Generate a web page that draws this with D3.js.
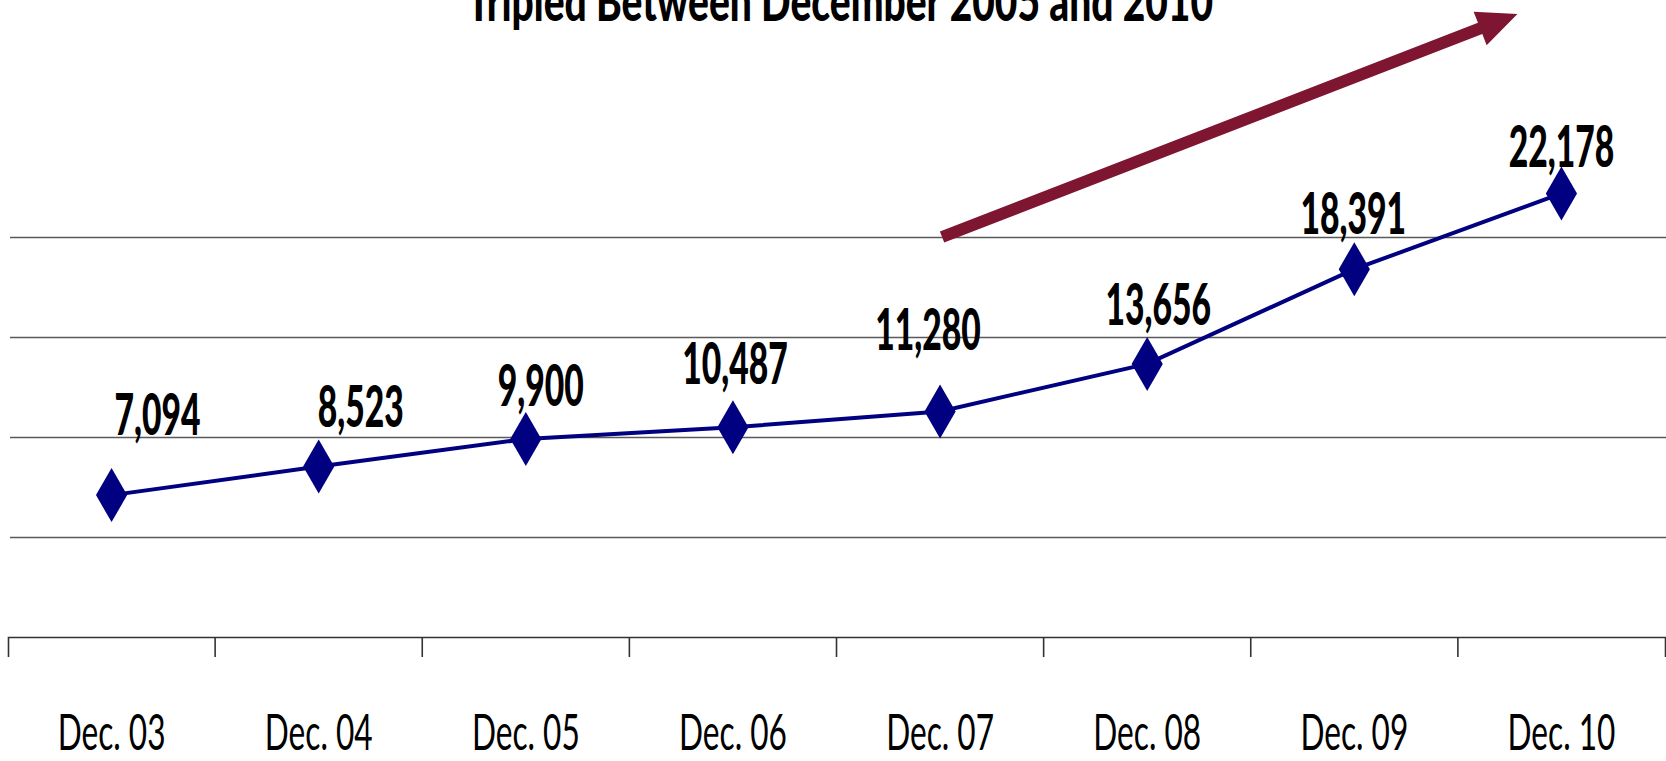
<!DOCTYPE html>
<html>
<head>
<meta charset="utf-8">
<script src="https://cdn.jsdelivr.net/npm/d3@7"></script>
<style>
  body { margin: 0; background: #fff; }
  svg { display: block; font-family: Lato, "Open Sans", sans-serif; }
</style>
</head>
<body>
<svg id="drawing_region"></svg>
<script>
// chart data
const categories = ['Dec. 03', 'Dec. 04', 'Dec. 05', 'Dec. 06', 'Dec. 07', 'Dec. 08', 'Dec. 09', 'Dec. 10'];
const values = [7094, 8523, 9900, 10487, 11280, 13656, 18391, 22178];
const gridValues = [5000, 10000, 15000, 20000];
const titleText = 'Tripled Between December 2005 and 2010';

var width = 1666;
var height = 761;
var margin = {top: 137, right: 1, bottom: 124, left: 8};

// label nudges (px) so labels sit like in the slide
const labelDx = [46, 42, 15, 2, -12, 11, -1, 0];
const labelDy = [-60, -40, -33, -43, -61, -39, -35, -26];

var svg = d3.select('#drawing_region')
    .attr('width', width)
    .attr('height', height);

const inner_width = width - margin.left - margin.right;
const inner_height = height - margin.top - margin.bottom;

const chart = svg.append('g')
    .attr('transform', `translate(${margin.left}, ${margin.top})`);

const xscale = d3.scaleBand()
    .domain(categories)
    .range([0, inner_width])
    .padding(0);

const yscale = d3.scaleLinear()
    .domain([0, 25000])
    .range([inner_height, 0]);

// gridlines
const ygrid = d3.axisLeft(yscale)
    .tickValues(gridValues)
    .tickSize(-inner_width)
    .tickFormat('');
chart.append('g')
    .attr('transform', 'translate(2, 0)')
    .call(ygrid)
    .call(g => g.select('.domain').remove())
    .call(g => g.selectAll('line').attr('stroke', '#5a5a5a').attr('stroke-width', 1.3));

// x axis
const xaxis = d3.axisBottom(xscale)
    .tickSizeInner(0)
    .tickSizeOuter(20);
const xaxis_group = chart.append('g')
    .attr('transform', `translate(0, ${inner_height})`)
    .call(xaxis);
xaxis_group.select('.domain').attr('stroke', '#333').attr('stroke-width', 1.6);
// condensed labels: squeeze horizontally
xaxis_group.selectAll('text')
    .attr('y', 0)
    .attr('dy', 0)
    .attr('transform', 'translate(0, 113) scale(0.62, 1)')
    .attr('font-size', 51)
    .attr('font-family', 'Lato, sans-serif')
    .attr('fill', '#000');
// tick marks between categories
xaxis_group.selectAll('.sep')
    .data(categories.slice(1))
    .enter().append('line')
    .attr('class', 'sep')
    .attr('x1', d => xscale(d))
    .attr('x2', d => xscale(d))
    .attr('y1', 0)
    .attr('y2', 20)
    .attr('stroke', '#333')
    .attr('stroke-width', 1.6);

const cx = (d, i) => xscale(categories[i]) + xscale.bandwidth() / 2;

// line
const line = d3.line()
    .x((d, i) => cx(d, i))
    .y(d => yscale(d));
chart.append('path')
    .attr('d', line(values))
    .attr('fill', 'none')
    .attr('stroke', '#000080')
    .attr('stroke-width', 4);

// diamonds
chart.selectAll('.pt')
    .data(values)
    .enter().append('path')
    .attr('class', 'pt')
    .attr('d', d3.symbol(d3.symbolDiamond, 842))
    .attr('transform', (d, i) => `translate(${cx(d, i)}, ${yscale(d)})`)
    .attr('fill', '#000080');

// value labels
chart.selectAll('.lbl')
    .data(values)
    .enter().append('text')
    .attr('class', 'lbl')
    .attr('transform', (d, i) =>
        `translate(${cx(d, i) + labelDx[i]}, ${yscale(d) + labelDy[i]}) scale(0.58, 1)`)
    .attr('text-anchor', 'middle')
    .attr('font-size', 58)
    .attr('font-weight', 900)
    .attr('fill', '#000')
    .text(d => d3.format(',')(d));

// trend arrow, from Dec. 07 at 20,000 up past the top of the plot
const a0 = [cx(0, 4) + 2, yscale(20000)];
const a1 = [cx(0, 7) - 44, yscale(31150)];
const ux = a1[0] - a0[0], uy = a1[1] - a0[1];
const len = Math.hypot(ux, uy);
const u = [ux / len, uy / len];
const nrm = [-u[1], u[0]];
const headLen = 40, headW = 18, shaftW = 6;
const base = [a1[0] - u[0] * headLen, a1[1] - u[1] * headLen];
const pt = (p, k, w) => [p[0] + nrm[0] * w * k, p[1] + nrm[1] * w * k];
const arrowPts = [
    pt(a0, 1, shaftW), pt(base, 1, shaftW), pt(base, 1, headW), a1,
    pt(base, -1, headW), pt(base, -1, shaftW), pt(a0, -1, shaftW)
];
chart.append('path')
    .attr('d', d3.line()(arrowPts) + 'Z')
    .attr('fill', '#7f1631');

// title (cut off at the top in the slide)
svg.append('text')
    .attr('x', 840)
    .attr('y', 21)
    .attr('text-anchor', 'middle')
    .attr('font-size', 56)
    .attr('font-weight', 900)
    .attr('fill', '#000')
    .text(titleText)
    .attr('textLength', 746)
    .attr('lengthAdjust', 'spacingAndGlyphs');
</script>
</body>
</html>
